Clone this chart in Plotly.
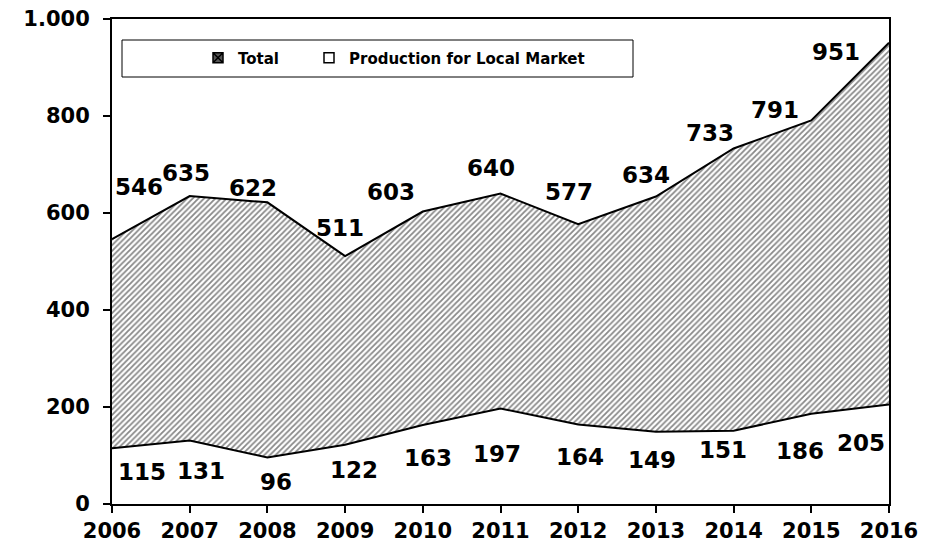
import plotly.graph_objects as go

years = [2006, 2007, 2008, 2009, 2010, 2011, 2012, 2013, 2014, 2015, 2016]
total = [546, 635, 622, 511, 603, 640, 577, 634, 733, 791, 951]
local_market = [115, 131, 96, 122, 163, 197, 164, 149, 151, 186, 205]

# label offsets in pixels (dx, dy) relative to the point, copied from the excel layout
total_dx = [27, -4, -14, -5, -32, -10, -9, -10, -24, -36, -53]
total_dy = [52, 23, 14, 28, 20, 26, 32, 22, 16, 10, -9]
local_dx = [30, 11, 9, 9, 5, -4, 2, -4, -11, -11, -28]
local_dy = [-24, -31, -25, -25, -33, -46, -33, -28, -19, -37, -38]

FONT = "DejaVu Sans"
OFF = 8  # page body margin of the html page
PL, PR, PT, PB = 112 - OFF, 889 - OFF, 19 - OFF, 504 - OFF  # plot box in figure px

fig = go.Figure()
fig.add_trace(go.Scatter(
    x=years, y=total, name="Total", mode="lines", showlegend=False,
    line=dict(color="black", width=2),
    fill="tozeroy", fillcolor="white",
    fillpattern=dict(shape="/", size=4, solidity=0.45, fgcolor="#111", bgcolor="white"),
))
fig.add_trace(go.Scatter(
    x=years, y=local_market, name="Production for Local Market", mode="lines", showlegend=False,
    line=dict(color="black", width=2),
    fill="tozeroy", fillcolor="white",
))
# legend entries (small square symbols like the excel legend)
fig.add_trace(go.Scatter(
    x=[None], y=[None], name="Total", mode="markers", legend="legend",
    marker=dict(symbol="square-x", size=10, color="#555", line=dict(color="black", width=1.5)),
))
fig.add_trace(go.Scatter(
    x=[None], y=[None], name="Production for Local Market", mode="markers", legend="legend2",
    marker=dict(symbol="square", size=10, color="white", line=dict(color="black", width=1.5)),
))

for i, yr in enumerate(years):
    fig.add_annotation(x=yr, y=total[i], text=str(total[i]), showarrow=False,
                       xshift=total_dx[i], yshift=total_dy[i],
                       font=dict(family=FONT, size=23, color="black", weight="bold"))
    fig.add_annotation(x=yr, y=local_market[i], text=str(local_market[i]), showarrow=False,
                       xshift=local_dx[i], yshift=local_dy[i],
                       font=dict(family=FONT, size=23, color="black", weight="bold"))

W = PR - PL
H = PB - PT
# legend frame
fig.add_shape(type="rect", xref="paper", yref="paper",
              x0=(122 - OFF - PL) / W, x1=(633 - OFF - PL) / W,
              y0=(PB - (77 - OFF)) / H, y1=(PB - (40 - OFF)) / H,
              line=dict(color="black", width=1), fillcolor="white", layer="above")

leg_font = dict(family=FONT, size=15, color="black", weight="bold")
leg_y = (PB - (58 - OFF)) / H
fig.update_layout(
    width=941, height=549,
    margin=dict(l=PL, r=941 - PR, t=PT, b=549 - PB),
    paper_bgcolor="white", plot_bgcolor="white",
    separators=",.",
    showlegend=True,
    legend=dict(x=(198 - OFF - PL) / W, y=leg_y, xanchor="left", yanchor="middle",
                font=leg_font, bgcolor="rgba(0,0,0,0)"),
    legend2=dict(x=(309 - OFF - PL) / W, y=leg_y, xanchor="left", yanchor="middle",
                 font=leg_font, bgcolor="rgba(0,0,0,0)"),
    font=dict(family=FONT, color="black"),
    hovermode=False,
)
fig.update_xaxes(range=[2006, 2016], tickmode="linear", dtick=1, showgrid=False, zeroline=False,
                 showline=True, linecolor="black", linewidth=2, mirror=True, automargin=False,
                 ticks="outside", ticklen=7, tickwidth=2, tickcolor="black",
                 ticklabeloverflow="allow",
                 tickfont=dict(family=FONT, size=21, weight="bold"))
fig.update_yaxes(range=[0, 1000], dtick=200, tickformat=",d", showgrid=False, zeroline=False,
                 showline=True, linecolor="black", linewidth=2, mirror=True, automargin=False,
                 ticks="outside", ticklen=7, tickwidth=2, tickcolor="black",
                 ticklabeloverflow="allow", ticklabelstandoff=9,
                 tickfont=dict(family=FONT, size=21, weight="bold"))

fig.write_html("out.html")
